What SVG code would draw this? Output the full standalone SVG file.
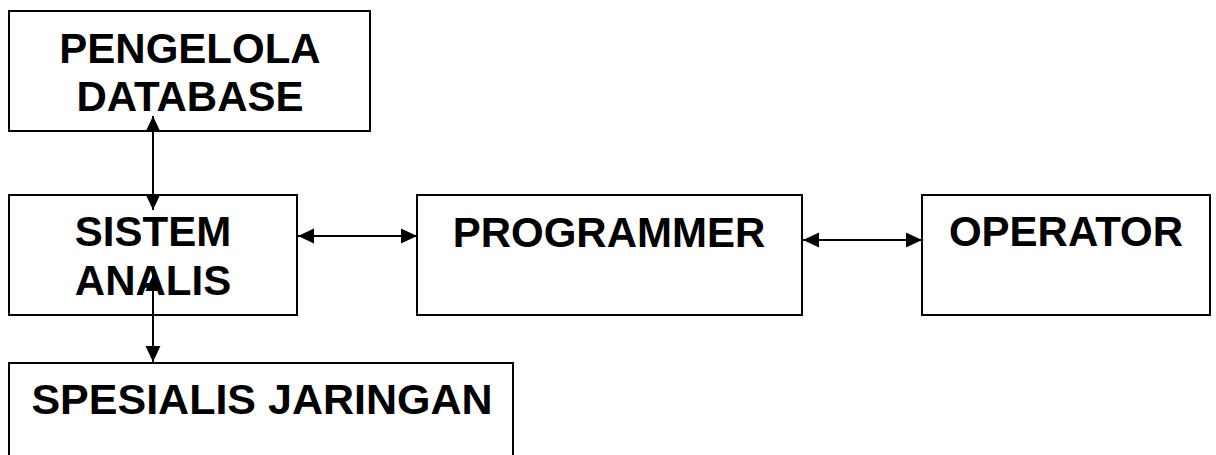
<svg xmlns="http://www.w3.org/2000/svg" width="1216" height="455" viewBox="0 0 1216 455">
<style>
.box{fill:#fff;stroke:#000;stroke-width:2}
.lbl{font-family:"Liberation Sans",Arial,sans-serif;font-weight:bold;font-size:42px;fill:#000;text-anchor:middle}
.conn{fill:none;stroke:#000;stroke-width:2}
</style>
<defs>
<marker id="ah" markerUnits="userSpaceOnUse" markerWidth="16" markerHeight="16" viewBox="0 0 15 14" refX="15" refY="7" orient="auto-start-reverse">
<path d="M0,0 L15,7 L0,14 Z" fill="#000"/>
</marker>
</defs>
<rect width="1216" height="455" fill="#fff"/>
<g id="n-pengelola">
<rect class="box" x="9" y="11" width="361" height="120"/>
<text class="lbl" x="190" y="63">PENGELOLA</text>
<text class="lbl" x="190" y="111">DATABASE</text>
</g>
<g id="n-sistem">
<rect class="box" x="9" y="195" width="288" height="120"/>
<text class="lbl" x="153" y="246">SISTEM</text>
<text class="lbl" x="153" y="295">ANALIS</text>
</g>
<g id="n-programmer">
<rect class="box" x="417" y="195" width="385" height="120"/>
<text class="lbl" x="609" y="247">PROGRAMMER</text>
</g>
<g id="n-operator">
<rect class="box" x="922" y="195" width="288" height="120"/>
<text class="lbl" x="1066" y="246">OPERATOR</text>
</g>
<g id="n-spesialis">
<rect class="box" x="9" y="363" width="504" height="110"/>
<text class="lbl" x="262" y="414" style="font-size:43px">SPESIALIS JARINGAN</text>
</g>
<g id="connectors">
<path class="conn" d="M153,116 L153,210" marker-start="url(#ah)" marker-end="url(#ah)"/>
<path class="conn" d="M153,275 L153,362" marker-start="url(#ah)" marker-end="url(#ah)"/>
<path class="conn" d="M298,236 L417,236" marker-start="url(#ah)" marker-end="url(#ah)"/>
<path class="conn" d="M803,240 L922,240" marker-start="url(#ah)" marker-end="url(#ah)"/>
</g>
</svg>
